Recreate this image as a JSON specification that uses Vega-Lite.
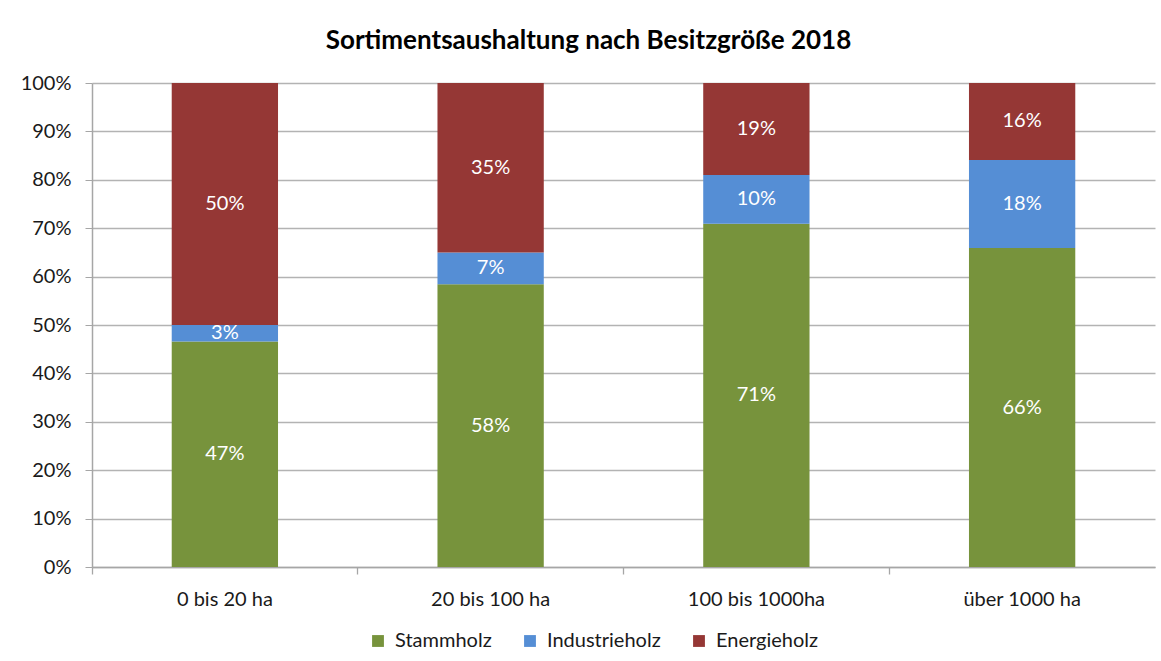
{
  "$schema": "https://vega.github.io/schema/vega-lite/v6.json",
  "autosize": "none",
  "width": 1063,
  "height": 484,
  "padding": {"left": 92, "top": 83, "right": 6, "bottom": 94},
  "background": "white",
  "config": {
    "font": "Lato",
    "view": {"stroke": null},
    "axis": {"labelFont": "Lato", "labelFontSize": 20, "labelColor": "#1a1a1a"}
  },
  "title": {
    "text": "Sortimentsaushaltung nach Besitzgröße 2018",
    "fontSize": 26,
    "fontWeight": "bold",
    "font": "Lato",
    "color": "#000000",
    "offset": 19,
    "dx": -35
  },
  "data": {
    "values": [
      {"Klasse": "0 bis 20 ha", "Sortiment": "Stammholz", "Anteil": 0.466},
      {"Klasse": "0 bis 20 ha", "Sortiment": "Industrieholz", "Anteil": 0.034},
      {"Klasse": "0 bis 20 ha", "Sortiment": "Energieholz", "Anteil": 0.5},
      {"Klasse": "20 bis 100 ha", "Sortiment": "Stammholz", "Anteil": 0.584},
      {"Klasse": "20 bis 100 ha", "Sortiment": "Industrieholz", "Anteil": 0.066},
      {"Klasse": "20 bis 100 ha", "Sortiment": "Energieholz", "Anteil": 0.35},
      {"Klasse": "100 bis 1000ha", "Sortiment": "Stammholz", "Anteil": 0.709},
      {"Klasse": "100 bis 1000ha", "Sortiment": "Industrieholz", "Anteil": 0.101},
      {"Klasse": "100 bis 1000ha", "Sortiment": "Energieholz", "Anteil": 0.19},
      {"Klasse": "über 1000 ha", "Sortiment": "Stammholz", "Anteil": 0.659},
      {"Klasse": "über 1000 ha", "Sortiment": "Industrieholz", "Anteil": 0.182},
      {"Klasse": "über 1000 ha", "Sortiment": "Energieholz", "Anteil": 0.159}
    ]
  },
  "transform": [
    {"calculate": "indexof(['Stammholz','Industrieholz','Energieholz'], datum.Sortiment)", "as": "rang"},
    {"stack": "Anteil", "groupby": ["Klasse"], "sort": [{"field": "rang", "order": "ascending"}], "as": ["y0", "y1"]},
    {"calculate": "(datum.y0 + datum.y1) / 2", "as": "ymid"}
  ],
  "encoding": {
    "x": {
      "field": "Klasse",
      "type": "nominal",
      "sort": ["0 bis 20 ha", "20 bis 100 ha", "100 bis 1000ha", "über 1000 ha"],
      "scale": {"paddingInner": 0, "paddingOuter": 0},
      "axis": {
        "title": null,
        "labelAngle": 0,
        "bandPosition": 0,
        "ticks": true,
        "tickSize": 7,
        "tickColor": "#a6a6a6",
        "tickWidth": 1.3,
        "labelPadding": 15,
        "domainColor": "#a6a6a6",
        "domainWidth": 1.5
      }
    }
  },
  "layer": [
    {
      "mark": {"type": "bar", "width": {"band": 0.4}},
      "encoding": {
        "y": {
          "field": "y0",
          "type": "quantitative",
          "scale": {"domain": [0, 1], "nice": false},
          "axis": {
            "title": null,
            "format": "0%",
            "values": [0, 0.1, 0.2, 0.3, 0.4, 0.5, 0.6, 0.7, 0.8, 0.9, 1],
            "grid": true,
            "gridColor": "#b3b3b3",
            "gridWidth": 1.3,
            "domainColor": "#a6a6a6",
            "domainWidth": 1.5,
            "tickColor": "#a6a6a6",
            "tickSize": 7,
            "labelPadding": 14
          }
        },
        "y2": {"field": "y1"},
        "color": {
          "field": "Sortiment",
          "type": "nominal",
          "scale": {
            "domain": ["Stammholz", "Industrieholz", "Energieholz"],
            "range": ["#77933C", "#558ED5", "#953735"]
          },
          "legend": {
            "title": null,
            "orient": "none",
            "legendX": 276,
            "legendY": 548,
            "direction": "horizontal",
            "symbolType": "square",
            "symbolSize": 140,
            "symbolStrokeWidth": 0,
            "labelFontSize": 20,
            "labelFont": "Lato",
            "labelColor": "#1a1a1a",
            "columnPadding": 28,
            "labelOffset": 7
          }
        }
      }
    },
    {
      "mark": {"type": "text", "color": "white", "fontSize": 20, "font": "Lato", "baseline": "middle"},
      "encoding": {
        "y": {"field": "ymid", "type": "quantitative"},
        "text": {"field": "Anteil", "type": "quantitative", "format": ".0%"}
      }
    }
  ]
}
